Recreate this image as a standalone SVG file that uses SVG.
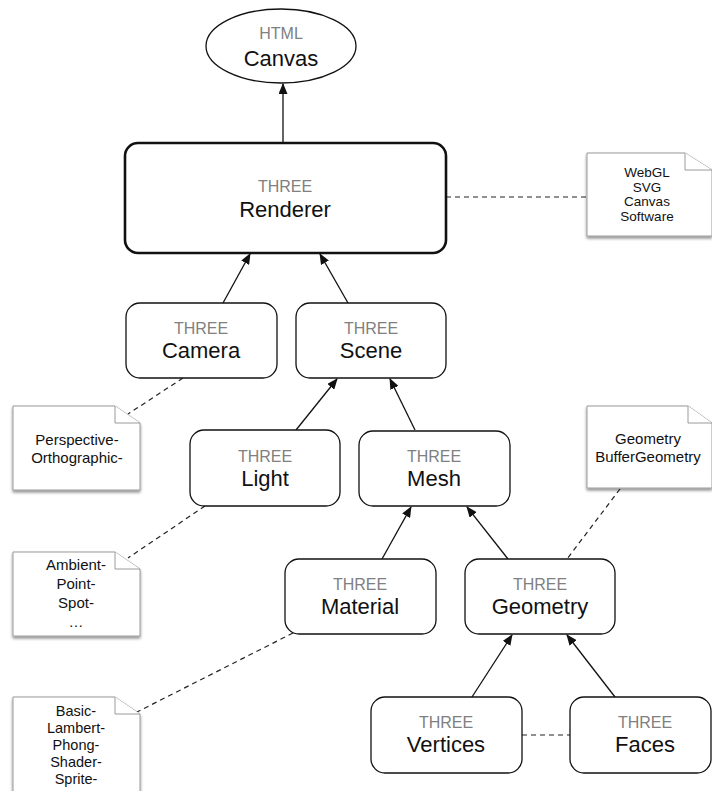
<svg xmlns="http://www.w3.org/2000/svg" width="712" height="791" viewBox="0 0 712 791">
  <style>
    .node { fill: #fff; stroke: #111; stroke-width: 1.3; }
    .bold { stroke-width: 2.6; }
    .kind { font-family: "Liberation Sans", Arial, sans-serif; font-size: 16px; fill: #808080; text-anchor: middle; }
    .name { font-family: "Liberation Sans", Arial, sans-serif; font-size: 22px; fill: #111; text-anchor: middle; }
    .note { fill: #fff; stroke: #9a9a9a; stroke-width: 1; }
    .fold { fill: #fff; stroke: #9a9a9a; stroke-width: 1; }
    .ntext { font-family: "Liberation Sans", Arial, sans-serif; font-size: 15px; fill: #111; text-anchor: middle; }
    .small { font-size: 13.5px; }
    .tight { font-size: 14.5px; }
    .edge { stroke: #111; stroke-width: 1.3; fill: none; marker-end: url(#arrow); }
    .dash { stroke: #222; stroke-width: 1.2; fill: none; stroke-dasharray: 5 4; }
  </style>
  <defs>
    <marker id="arrow" markerUnits="userSpaceOnUse" markerWidth="11" markerHeight="9" refX="10" refY="4.5" orient="auto">
      <path d="M0,0 L11,4.5 L0,9 z" fill="#111"/>
    </marker>
    <filter id="shadow" x="-10%" y="-10%" width="130%" height="130%">
      <feDropShadow dx="0" dy="2" stdDeviation="1.5" flood-color="#000" flood-opacity="0.45"/>
    </filter>
  </defs>
  <rect width="712" height="791" fill="#fff"/>

  <!-- connectors -->
  <g id="connectors">
    <line class="edge" x1="283" y1="143" x2="283" y2="84"/>
    <line class="edge" x1="223" y1="303" x2="250" y2="254"/>
    <line class="edge" x1="348" y1="303" x2="320" y2="254"/>
    <line class="edge" x1="296" y1="430" x2="337" y2="379"/>
    <line class="edge" x1="415" y1="430" x2="390" y2="379"/>
    <line class="edge" x1="382" y1="559" x2="411" y2="507"/>
    <line class="edge" x1="508" y1="559" x2="467" y2="507"/>
    <line class="edge" x1="472" y1="697" x2="512" y2="635"/>
    <line class="edge" x1="615" y1="697" x2="567" y2="635"/>
    <line class="dash" x1="446" y1="197" x2="587" y2="197"/>
    <line class="dash" x1="183" y1="378" x2="128" y2="414"/>
    <line class="dash" x1="205" y1="506" x2="128" y2="558"/>
    <line class="dash" x1="293" y1="633" x2="135" y2="713"/>
    <line class="dash" x1="620" y1="489" x2="567" y2="559"/>
    <line class="dash" x1="522" y1="735" x2="570" y2="735"/>
  </g>

  <!-- nodes -->
  <g id="canvas">
    <ellipse class="node" cx="281" cy="46" rx="75" ry="37"/>
    <text class="kind" x="281" y="39">HTML</text>
    <text class="name" x="281" y="66">Canvas</text>
  </g>
  <g id="renderer">
    <rect class="node bold" x="125" y="143" width="321" height="110" rx="13"/>
    <text class="kind" x="285" y="192">THREE</text>
    <text class="name" x="285" y="217">Renderer</text>
  </g>
  <g id="camera">
    <rect class="node" x="126" y="303" width="151" height="75" rx="14"/>
    <text class="kind" x="201" y="334">THREE</text>
    <text class="name" x="201" y="358">Camera</text>
  </g>
  <g id="scene">
    <rect class="node" x="296" y="303" width="150" height="75" rx="14"/>
    <text class="kind" x="371" y="334">THREE</text>
    <text class="name" x="371" y="358">Scene</text>
  </g>
  <g id="light">
    <rect class="node" x="190" y="430" width="150" height="76" rx="14"/>
    <text class="kind" x="265" y="462">THREE</text>
    <text class="name" x="265" y="486">Light</text>
  </g>
  <g id="mesh">
    <rect class="node" x="359" y="431" width="151" height="75" rx="14"/>
    <text class="kind" x="434" y="462">THREE</text>
    <text class="name" x="434" y="486">Mesh</text>
  </g>
  <g id="material">
    <rect class="node" x="285" y="559" width="151" height="75" rx="14"/>
    <text class="kind" x="360" y="590">THREE</text>
    <text class="name" x="360" y="614">Material</text>
  </g>
  <g id="geometry">
    <rect class="node" x="465" y="559" width="150" height="75" rx="14"/>
    <text class="kind" x="540" y="590">THREE</text>
    <text class="name" x="540" y="614">Geometry</text>
  </g>
  <g id="vertices">
    <rect class="node" x="371" y="697" width="151" height="76" rx="14"/>
    <text class="kind" x="446" y="728">THREE</text>
    <text class="name" x="446" y="752">Vertices</text>
  </g>
  <g id="faces">
    <rect class="node" x="570" y="697" width="141" height="76" rx="14"/>
    <text class="kind" x="645" y="728">THREE</text>
    <text class="name" x="645" y="752">Faces</text>
  </g>

  <!-- notes -->
  <g id="note-renderers">
    <path class="note" filter="url(#shadow)" d="M587,153 H685 L712,170 V236 H587 Z"/>
    <path class="fold" d="M685,153 V170 H712"/>
    <text class="ntext small" x="647" y="177">WebGL</text>
    <text class="ntext small" x="647" y="192">SVG</text>
    <text class="ntext small" x="647" y="206">Canvas</text>
    <text class="ntext small" x="647" y="221">Software</text>
  </g>
  <g id="note-cameras">
    <path class="note" filter="url(#shadow)" d="M13,406 H115 L140,423 V490 H13 Z"/>
    <path class="fold" d="M115,406 V423 H140"/>
    <text class="ntext" x="77" y="445">Perspective-</text>
    <text class="ntext" x="77" y="463">Orthographic-</text>
  </g>
  <g id="note-lights">
    <path class="note" filter="url(#shadow)" d="M13,552 H115 L140,569 V636 H13 Z"/>
    <path class="fold" d="M115,552 V569 H140"/>
    <text class="ntext" x="76" y="570">Ambient-</text>
    <text class="ntext" x="76" y="589">Point-</text>
    <text class="ntext" x="76" y="608">Spot-</text>
    <text class="ntext" x="76" y="627">…</text>
  </g>
  <g id="note-materials">
    <path class="note" filter="url(#shadow)" d="M13,697 H115 L140,714 V800 H13 Z"/>
    <path class="fold" d="M115,697 V714 H140"/>
    <text class="ntext tight" x="76" y="716">Basic-</text>
    <text class="ntext tight" x="76" y="733">Lambert-</text>
    <text class="ntext tight" x="76" y="750">Phong-</text>
    <text class="ntext tight" x="76" y="767">Shader-</text>
    <text class="ntext tight" x="76" y="784">Sprite-</text>
  </g>
  <g id="note-geometries">
    <path class="note" filter="url(#shadow)" d="M587,406 H688 L712,423 V488 H587 Z"/>
    <path class="fold" d="M688,406 V423 H712"/>
    <text class="ntext" x="648" y="444">Geometry</text>
    <text class="ntext" x="648" y="462">BufferGeometry</text>
  </g>
</svg>
